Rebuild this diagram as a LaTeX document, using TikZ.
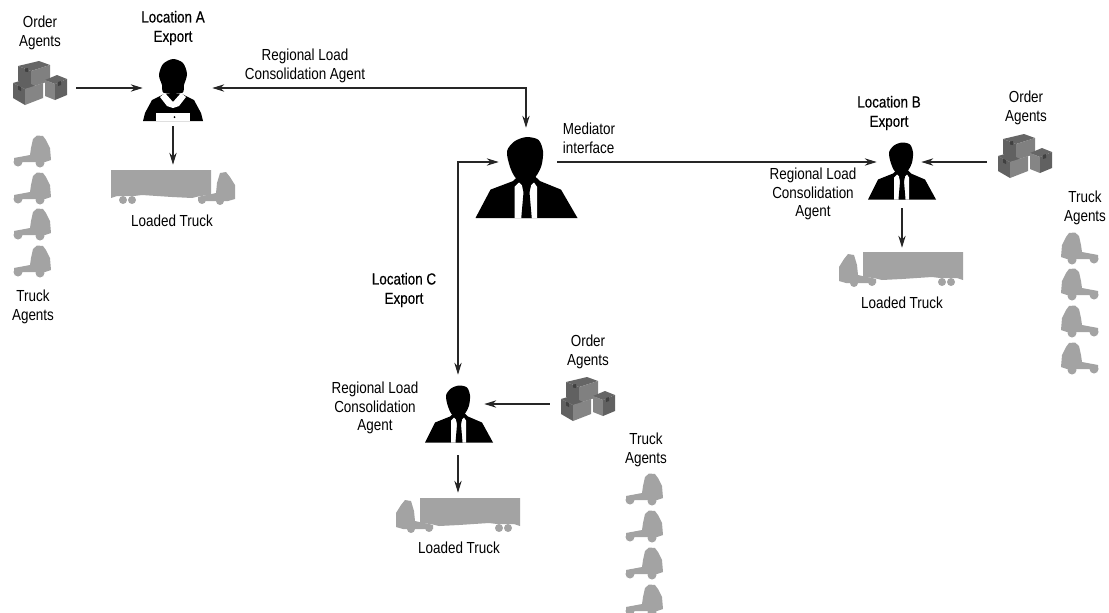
\documentclass[tikz,border=0pt]{standalone}
\usepackage{fontspec}
\setmainfont[FakeStretch=0.84]{Liberation Sans}
\newfontfamily\labelfont[FakeStretch=0.84,FakeBold=0.5]{Liberation Sans}
\usetikzlibrary{arrows.meta}

\begin{document}
\begin{tikzpicture}[x=0.75pt,y=-0.75pt,>={Stealth[length=9pt,width=5.5pt]},
  conn/.style={->,draw=black!85,line width=0.85pt},
  conn both/.style={<->,draw=black!85,line width=0.85pt},
  slot/.style 2 args={inner sep=0pt,minimum width=#1*0.75pt,minimum height=#2*0.75pt},
  txt/.style={inner sep=0pt,align=center,font=\fontsize{12}{14}\selectfont},
  head txt/.style={inner sep=0pt,align=center,font=\labelfont\fontsize{12}{14.5}\selectfont},
  gray part/.style={fill=black!36,draw=none},
  man/.pic={
    \fill[black] (-34,0) -- (-24,-20) -- (-9,-26) -- (-5,-30) -- (5,-30) -- (9,-26) -- (23,-20) -- (34,0) -- cycle;
    \fill[black] plot[smooth cycle] coordinates {(-13,-47) (-8,-54) (0,-57) (8,-55) (11,-47) (10,-37) (6,-29) (0,-25) (-7,-28) (-11,-36)};
    \fill[white] (-8,0) -- (-8,-22) -- (-5,-25) -- (0,-20) -- (5,-25) -- (7,-22) -- (7,0) -- cycle;
    \fill[black] (-3,-23) -- (0,-24) -- (3,-23) -- (2,-18) -- (3.5,0) -- (-3.5,0) -- (-2,-18) -- cycle;
  },
  woman/.pic={
    \fill[black] (-30,0) -- (-28,-8) -- (-21,-21) -- (-9,-27) -- (9,-27) -- (21,-21) -- (28,-8) -- (30,0) -- cycle;
    \fill[black] plot[smooth cycle] coordinates {(-14,-46) (-10,-57) (0,-62) (10,-58) (14,-47) (11,-36) (9,-28) (-9,-28) (-11,-36)};
    \fill[white] (-13,-24) -- (-8,-28) -- (0,-19) -- (8,-28) -- (13,-24) -- (6,-15) -- (0,-13) -- (-6,-15) -- cycle;
    \fill[white] (-17,0) rectangle (17,-8);
    \fill[black] (1.5,-4) circle (1);
  },
  parcels/.pic={
    \fill[black!60] (-22,-17) -- (-1,-22) -- (10,-18) -- (-9,-12) -- cycle;
    \fill[black!62] (-22,-17) -- (-9,-12) -- (-9,4) -- (-22,-2) -- cycle;
    \fill[black!50] (-9,-12) -- (10,-18) -- (10,-2) -- (-9,4) -- cycle;
    \fill[black!60] (5,-3) -- (17,-8) -- (27,-4) -- (15,1) -- cycle;
    \fill[black!48] (5,-3) -- (15,1) -- (15,17) -- (5,13) -- cycle;
    \fill[black!62] (15,1) -- (27,-4) -- (27,12) -- (15,17) -- cycle;
    \fill[black!62] (-27,0) -- (-17,-3) -- (-3,4) -- (-15,6) -- cycle;
    \fill[black!62] (-27,0) -- (-15,6) -- (-15,22) -- (-27,15) -- cycle;
    \fill[black!48] (-15,6) -- (3,0) -- (3,15) -- (-15,22) -- cycle;
    \fill[black!75] (-15,-14.5) -- (-12,-15) -- (-12,-11) -- (-15,-11.5) -- cycle;
    \fill[black!75] (-22,2.5) -- (-19,4) -- (-19,8) -- (-22,6.5) -- cycle;
    \fill[black!75] (18,-1) -- (21,-2) -- (21,2) -- (18,3) -- cycle;
  },
  tractor/.pic={
    \fill[gray part] (-19,7) -- (-3,4) -- (-2,-3) -- (0,-12) -- (4,-15.5) -- (10,-15) -- (13,-11) -- (17,-3) -- (18,9) -- (12,11) -- (-19,11) -- cycle;
    \fill[gray part] (-15,11) circle (4.5) (7,12) circle (4.5);
  },
  rig/.pic={
    \fill[gray part] (-61,-17) -- (39,-17) -- (39,8) -- (28,9) -- (20,11) -- (0,10) -- (-30,8) -- (-38,9) -- (-55,9) -- (-61,11) -- cycle;
    \fill[gray part] (-49,13) circle (4) (-40,13) circle (4) (30,13) circle (4);
    \fill[gray part] (26,10) -- (44,6) -- (45,-4) -- (48,-14) -- (54,-15) -- (58,-10) -- (63,-2) -- (63,12) -- (56,14) -- (26,14) -- cycle;
    \fill[gray part] (48,14) circle (4);
  }]
  \useasboundingbox (0,0) rectangle (1109,612);

  % silhouettes
  \pic at (173,121) {woman};
  \pic[xscale=1.5,yscale=1.42] at (526.5,218) {man};
  \pic at (902,199.5) {man};
  \pic at (459,442.5) {man};
  \pic at (40,83) {parcels};
  \pic at (1025,156) {parcels};
  \pic at (588,399) {parcels};
  \pic at (172,187) {rig};
  \pic[xscale=-1] at (902,269) {rig};
  \pic[xscale=-1] at (459,515) {rig};
  \foreach \y in {151,188,224,261} \pic at (33,\y) {tractor};
  \foreach \y in {248,284,321,358} \pic[xscale=-1] at (1079,\y) {tractor};
  \foreach \y in {489,526,563,600} \pic at (645,\y) {tractor};

  % anchors for the connectors
  \node[slot={64}{44}] (parcelsA) at (44,88) {};
  \node[slot={69}{44}] (parcelsB) at (1021.5,162) {};
  \node[slot={70}{44}] (parcelsC) at (585,404) {};
  \node[slot={69}{66}] (siteA) at (177.5,93) {};
  \node[slot={44}{92}] (siteB) at (899,162) {};
  \node[slot={52}{80}] (siteC) at (458,415) {};
  \node[slot={58}{90}] (mediator) at (528,173) {};
  \node[slot={125}{40}] (rigA) at (173,185) {};
  \node[slot={125}{40}] (rigB) at (902,268) {};
  \node[slot={125}{40}] (rigC) at (458,513) {};
  \coordinate (cornerA) at (526,88);
  \coordinate (cornerC) at (458,162);

  \draw[conn] (parcelsA.east) -- (parcelsA -| siteA.west);
  \draw[conn] (parcelsB.west) -- (parcelsB -| siteB.east);
  \draw[conn] (parcelsC.west) -- (parcelsC -| siteC.east);
  \draw[conn both] (cornerA -| siteA.east) -- (cornerA) -- (cornerA |- mediator.north);
  \draw[conn both] (cornerC -| mediator.west) -- (cornerC) -- (cornerC |- siteC.north);
  \draw[conn] (siteB -| mediator.east) -- (siteB.west);
  \draw[conn] (rigA.north |- siteA.south) -- (rigA.north);
  \draw[conn] (rigB.north |- siteB.south) -- (rigB.north);
  \draw[conn] (siteC.south) -- (rigC.north);

  % labels
  \node[head txt] (titleA) at (173,28) {Location A\\Export};
  \node[head txt] (titleB) at (889,113) {Location B\\Export};
  \node[head txt] (titleC) at (404,290) {Location C\\Export};
  \node[txt] (orderA) at (40,33) {Order\\Agents};
  \node[txt] (orderB) at (1026,108) {Order\\Agents};
  \node[txt] (orderC) at (588,352) {Order\\Agents};
  \node[txt] (fleetA) at (33,307) {Truck\\Agents};
  \node[txt] (fleetB) at (1085,208) {Truck\\Agents};
  \node[txt] (fleetC) at (646,450) {Truck\\Agents};
  \node[txt] (loadA) at (172,221) {Loaded Truck};
  \node[txt] (loadB) at (902,303) {Loaded Truck};
  \node[txt] (loadC) at (459,548) {Loaded Truck};
  \node[txt] (regionA) at (305,66) {Regional Load\\Consolidation Agent};
  \node[txt] (regionB) at (813,194) {Regional Load\\Consolidation\\Agent};
  \node[txt] (regionC) at (375,408) {Regional Load\\Consolidation\\Agent};
  \node[txt,align=left] (medlabel) at (589,138) {Mediator\\interface};
\end{tikzpicture}
\end{document}
